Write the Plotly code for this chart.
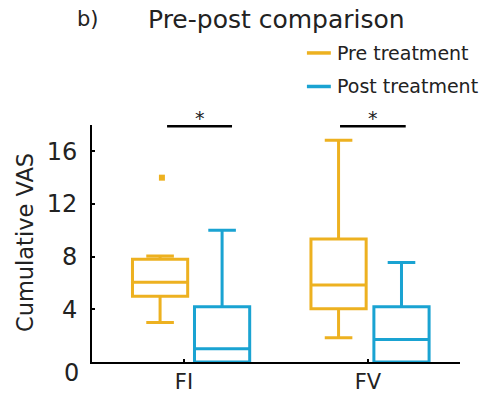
import plotly.graph_objects as go

# ---------------- data ----------------
categories = ["FI", "FV"]
pre_q1 = [5.0, 4.05]
pre_median = [6.05, 5.85]
pre_q3 = [7.8, 9.35]
pre_lower = [3.0, 1.85]
pre_upper = [8.05, 16.85]
post_q1 = [0.0, 0.0]
post_median = [1.0, 1.7]
post_q3 = [4.2, 4.2]
post_lower = [0.0, 0.0]
post_upper = [10.0, 7.55]
pre_outlier_cat = [0]
pre_outlier_val = [14.0]
y_ticks = [0, 4, 8, 12, 16]
series_names = ["Pre treatment", "Post treatment"]
significance = ["*", "*"]

# ---------------- style ----------------
PRE_COLOR = "#EDB120"
POST_COLOR = "#1AA3D2"
FONT = "DejaVu Sans"
TXT = "#222222"
pre_off = [-0.130, -0.160]
post_off = [0.207, 0.182]
sig_x0_off = [-0.092, -0.152]
sig_x1_off = [0.261, 0.205]
box_w = 0.30

idx = list(range(len(categories)))
fig = go.Figure()

fig.add_trace(go.Box(
    x=[i + pre_off[i] for i in idx], q1=pre_q1, median=pre_median, q3=pre_q3,
    lowerfence=pre_lower, upperfence=pre_upper, width=box_w, whiskerwidth=0.5,
    line=dict(color=PRE_COLOR, width=3), fillcolor="rgba(0,0,0,0)",
    boxpoints=False, showlegend=False, name=series_names[0]))
fig.add_trace(go.Box(
    x=[i + post_off[i] for i in idx], q1=post_q1, median=post_median, q3=post_q3,
    lowerfence=post_lower, upperfence=post_upper, width=box_w, whiskerwidth=0.5,
    line=dict(color=POST_COLOR, width=3), fillcolor="rgba(0,0,0,0)",
    boxpoints=False, showlegend=False, name=series_names[1]))
fig.add_trace(go.Scatter(
    x=[c + pre_off[c] + 0.01 for c in pre_outlier_cat], y=pre_outlier_val, mode="markers",
    marker=dict(symbol="square", size=6, color=PRE_COLOR), showlegend=False,
    cliponaxis=False))

shapes = []
annotations = []
# significance bars
for i, s in enumerate(significance):
    x0 = i + sig_x0_off[i]
    x1 = i + sig_x1_off[i]
    shapes.append(dict(type="line", xref="x", yref="paper", x0=x0, x1=x1,
                       y0=0.995, y1=0.995, line=dict(color="black", width=2.5)))
    annotations.append(dict(xref="x", yref="paper", x=(x0 + x1) / 2, y=0.975,
                            text=s, showarrow=False, yanchor="bottom",
                            font=dict(family=FONT, size=19, color=TXT)))
# legend
for k, (nm, col, yp) in enumerate(zip(series_names, [PRE_COLOR, POST_COLOR], [1.304, 1.1625])):
    shapes.append(dict(type="line", xref="paper", yref="paper", x0=0.584, x1=0.649,
                       y0=yp, y1=yp, line=dict(color=col, width=3.5)))
    annotations.append(dict(xref="paper", yref="paper", x=0.66, y=yp, text=nm,
                            showarrow=False, xanchor="left", yanchor="middle",
                            font=dict(family=FONT, size=19, color=TXT)))
# title
annotations.append(dict(xref="paper", yref="paper", x=-0.045, y=1.446, text="b)",
                        showarrow=False, xanchor="left", yanchor="middle",
                        font=dict(family=FONT, size=21, color=TXT)))
annotations.append(dict(xref="paper", yref="paper", x=0.147, y=1.446,
                        text="Pre-post comparison", showarrow=False,
                        xanchor="left", yanchor="middle",
                        font=dict(family=FONT, size=25, color=TXT)))
# y title
annotations.append(dict(xref="paper", yref="paper", x=-0.18, y=0.505,
                        text="Cumulative VAS", textangle=-90, showarrow=False,
                        xanchor="center", yanchor="middle",
                        font=dict(family=FONT, size=22.5, color=TXT)))
# zero label (drawn slightly lower as in the reference)
annotations.append(dict(xref="paper", yref="y", x=-0.03, y=y_ticks[0], yshift=-11,
                        text=str(y_ticks[0]), showarrow=False, xanchor="right",
                        yanchor="middle", font=dict(family=FONT, size=24, color=TXT)))

fig.update_layout(
    width=498, height=406,
    margin=dict(l=92, r=38, t=125, b=41),
    plot_bgcolor="white", paper_bgcolor="white",
    shapes=shapes, annotations=annotations,
    font=dict(family=FONT, color=TXT),
    xaxis=dict(range=[-0.5, 1.5], tickvals=idx, ticktext=categories,
               showline=True, linecolor="black", linewidth=2, ticks="inside",
               ticklen=3, tickcolor="black", tickwidth=1.5, showgrid=False,
               zeroline=False, tickfont=dict(family=FONT, size=21, color=TXT)),
    yaxis=dict(range=[0, 18], tickvals=y_ticks,
               ticktext=[""] + [str(v) for v in y_ticks[1:]],
               showline=True, linecolor="black", linewidth=2, ticks="inside",
               ticklen=3, tickcolor="black", tickwidth=1.5,
               showgrid=False, zeroline=False, ticklabelstandoff=8,
               tickfont=dict(family=FONT, size=24, color=TXT)),
)

fig.write_html("out.html", config={"displayModeBar": False},
               post_script="document.body.style.margin='0';")
